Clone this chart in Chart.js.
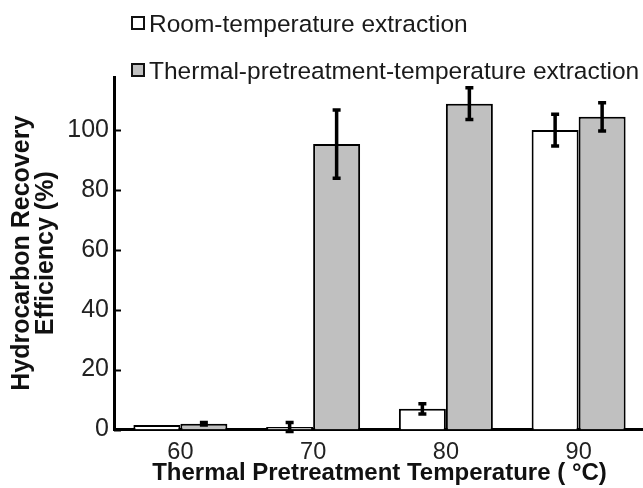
<!DOCTYPE html>
<html>
<head>
<meta charset="utf-8">
<script src="https://cdn.jsdelivr.net/npm/chart.js@4/dist/chart.umd.min.js"></script>
<style>
  html, body { margin: 0; padding: 0; background: #fff; overflow: hidden; }
  #wrap { position: relative; width: 643px; height: 488px; overflow: hidden; }
  #c { position: absolute; left: 0; top: 0; }
  #legend { position: absolute; left: 0; top: 0; width: 643px; height: 0; font-family: "Liberation Sans", Arial, sans-serif; font-size: 24.5px; color: #1a1a1a; }
  .item { position: absolute; left: 131px; white-space: nowrap; line-height: 1; }
  .box { display: inline-block; width: 10px; height: 10px; border: 2px solid #111; margin-right: 4px; vertical-align: 2px; }
</style>
</head>
<body>
<div id="wrap">
  <canvas id="c" width="660" height="488"></canvas>
  <div id="legend"></div>
</div>
<script>
// ---- data ----
const categories = ['60', '70', '80', '90'];
const seriesNames = ['Room-temperature extraction', 'Thermal-pretreatment-temperature extraction'];
const roomValues = [1.5, 0.8, 6.9, 100.0];
const roomErrors = [0, 1.5, 1.7, 5.3];
const thermalValues = [1.9, 95.3, 108.8, 104.4];
const thermalErrors = [0.4, 11.4, 5.3, 4.7];
const yTickValues = [0, 20, 40, 60, 80, 100];
const yMax = 117.7;

const fillColors = ['#ffffff', '#c0c0c0'];

// HTML legend
const legendEl = document.getElementById('legend');
const legendTops = [12, 59];
seriesNames.forEach((name, i) => {
  const d = document.createElement('div');
  d.className = 'item';
  d.style.top = legendTops[i] + 'px';
  const b = document.createElement('span');
  b.className = 'box';
  b.style.background = fillColors[i];
  d.appendChild(b);
  d.appendChild(document.createTextNode(name));
  legendEl.appendChild(d);
});

const errorArrays = [roomErrors, thermalErrors];

const errorBarPlugin = {
  id: 'errorBars',
  afterDatasetsDraw(chart) {
    const ctx = chart.ctx;
    const y = chart.scales.y;
    ctx.save();
    ctx.strokeStyle = '#000';
    ctx.lineWidth = 3.5;
    chart.data.datasets.forEach((ds, di) => {
      const meta = chart.getDatasetMeta(di);
      meta.data.forEach((el, i) => {
        const v = ds.data[i];
        const e = errorArrays[di][i];
        if (!e) return;
        const yt = y.getPixelForValue(v + e);
        const yb = y.getPixelForValue(v - e);
        const cap = 4;
        ctx.beginPath();
        ctx.moveTo(el.x, yt); ctx.lineTo(el.x, yb);
        ctx.moveTo(el.x - cap, yt); ctx.lineTo(el.x + cap, yt);
        ctx.moveTo(el.x - cap, yb); ctx.lineTo(el.x + cap, yb);
        ctx.stroke();
      });
    });
    ctx.restore();
  }
};

const innerTicksPlugin = {
  id: 'innerTicks',
  afterDraw(chart) {
    const ctx = chart.ctx;
    const y = chart.scales.y;
    const a = chart.chartArea;
    ctx.save();
    ctx.strokeStyle = '#000';
    ctx.lineWidth = 2;
    y.ticks.forEach(t => {
      const py = Math.round(y.getPixelForValue(t.value)) + 0.5;
      ctx.beginPath();
      ctx.moveTo(a.left, py); ctx.lineTo(a.left + 7, py);
      ctx.stroke();
    });
    ctx.restore();
  }
};

new Chart(document.getElementById('c'), {
  type: 'bar',
  data: {
    labels: categories,
    datasets: [
      { label: seriesNames[0], data: roomValues, backgroundColor: fillColors[0], borderColor: '#000', borderWidth: 2, borderSkipped: 'bottom' },
      { label: seriesNames[1], data: thermalValues, backgroundColor: fillColors[1], borderColor: '#000', borderWidth: 2, borderSkipped: 'bottom' }
    ]
  },
  options: {
    responsive: false,
    animation: false,
    events: [],
    layout: { padding: { top: 77, right: 15, left: 0, bottom: 0 } },
    datasets: { bar: { categoryPercentage: 0.708, barPercentage: 1.0 } },
    plugins: {
      legend: { display: false },
      tooltip: { enabled: false }
    },
    scales: {
      x: {
        grid: { display: false, drawTicks: false },
        border: { display: true, color: '#000', width: 3 },
        ticks: { color: '#222', font: { family: 'Liberation Sans', size: 23.5 }, padding: 9 },
        title: {
          display: true,
          text: 'Thermal Pretreatment Temperature ( °C)',
          color: '#111',
          font: { family: 'Liberation Sans', size: 24, weight: 'bold' },
          padding: { top: 0, bottom: 0 }
        },
        afterFit(s) { s.height = 58.5; }
      },
      y: {
        min: 0,
        max: yMax,
        afterBuildTicks(s) { s.ticks = yTickValues.map(v => ({ value: v })); },
        grid: { display: false, drawTicks: false },
        border: { display: true, color: '#000', width: 3 },
        ticks: { color: '#222', font: { family: 'Liberation Sans', size: 25 }, padding: 5 },
        title: {
          display: true,
          text: ['Hydrocarbon Recovery', 'Efficiency (%)'],
          color: '#111',
          font: { family: 'Liberation Sans', size: 25, weight: 'bold', lineHeight: 0.95 },
          padding: { top: 10, bottom: 0 }
        },
        afterFit(s) { s.width = 114; }
      }
    }
  },
  plugins: [errorBarPlugin, innerTicksPlugin]
});
</script>
</body>
</html>
